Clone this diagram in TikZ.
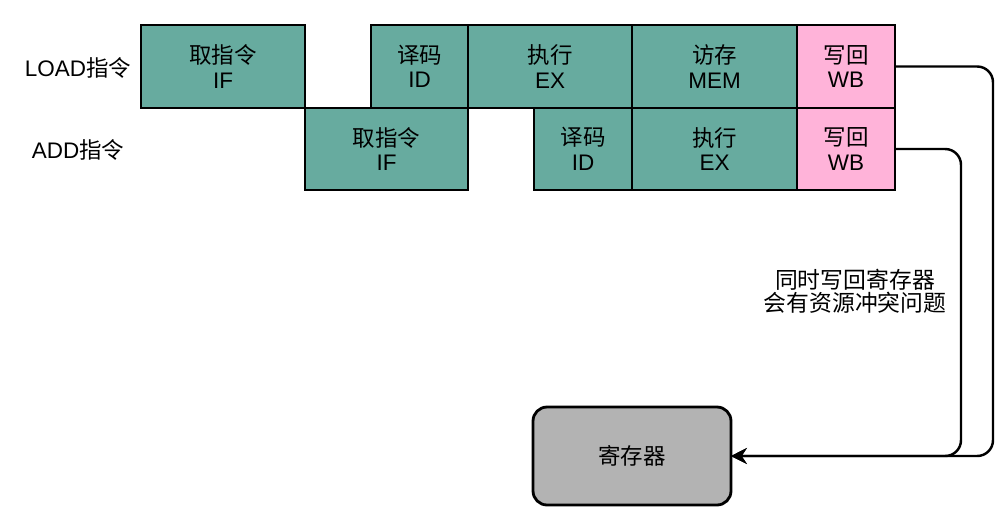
\documentclass[tikz,border=0pt]{standalone}
\usepackage{fontspec}
\setmainfont{Liberation Sans}
\newfontfamily\cjk{Noto Sans CJK SC}
\usetikzlibrary{arrows.meta}
\definecolor{stagegreen}{HTML}{67AB9F}
\definecolor{wbpink}{HTML}{FFB3D9}
\definecolor{reggray}{HTML}{B3B3B3}

\begin{document}
\begin{tikzpicture}[x=0.02cm,y=-0.02cm,
	every node/.style={font=\fontsize{12.8}{14}\selectfont,inner sep=0,outer sep=0},
	stage/.style={draw,line width=1.6pt,fill=stagegreen,align=center},
	wb/.style={stage,fill=wbpink},
	reg/.style={draw,line width=1.6pt,fill=reggray,rounded corners=8pt},
	link/.style={line width=1.4pt,rounded corners=9pt,-{Stealth[length=9pt,width=9pt,inset=3pt]}}]
	\useasboundingbox (0,0) rectangle (1000,515);
	% row labels
	\node (load) at (78,68) {LOAD{\cjk 指令}};
	\node (add) at (78,150) {ADD{\cjk 指令}};
	% LOAD pipeline
	\foreach \n/\x/\w/\t/\c/\s in {lif/141/164/取指令/IF/stage,lid/371/97/译码/ID/stage,lex/468/164/执行/EX/stage,lmem/632/165/访存/MEM/stage,lwb/797/98/写回/WB/wb}
		\node[\s,minimum width=\w*0.02cm,minimum height=83*0.02cm] (\n) at ({\x+\w/2},66.5) {{\cjk \t}\\\c};
	% ADD pipeline
	\foreach \n/\x/\w/\t/\c/\s in {aif/305/163/取指令/IF/stage,aid/534/98/译码/ID/stage,aex/632/165/执行/EX/stage,awb/797/98/写回/WB/wb}
		\node[\s,minimum width=\w*0.02cm,minimum height=82*0.02cm] (\n) at ({\x+\w/2},149) {{\cjk \t}\\\c};
	% register file
	\node[reg,minimum width=198*0.02cm,minimum height=98*0.02cm] (regs) at (632,456) {\cjk 寄存器};
	\node[align=center,font=\fontsize{13}{13}\selectfont\cjk] (note) at (855,291) {同时写回寄存器\\会有资源冲突问题};
	\coordinate (c1) at (993,456);
	\coordinate (c2) at (961,456);
	\draw[link] (lwb.east) -| (c1) -- (regs.east);
	\draw[link] (awb.east) -| (c2) -- (regs.east);
\end{tikzpicture}
\end{document}
